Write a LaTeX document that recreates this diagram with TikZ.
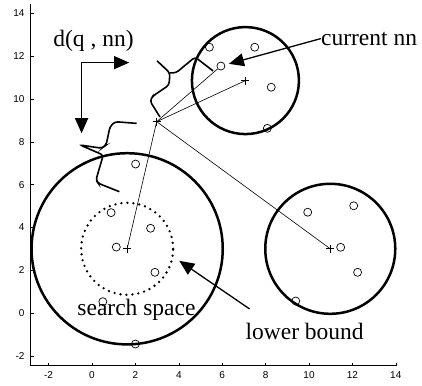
\documentclass[tikz,border=0pt]{standalone}
\usepackage{fontspec}
\setmainfont{Liberation Serif}
\setsansfont{Liberation Sans}
\usetikzlibrary{arrows.meta}

\begin{document}
\begin{tikzpicture}[x=21.7pt, y=21.4pt,
  ring/.style={line width=2.5pt},
  wave/.style={line width=1.6pt, rounded corners=3pt},
  ray/.style={line width=0.6pt},
  pt/.style={circle, draw, line width=0.7pt, minimum size=8pt, inner sep=0pt},
  lbl/.style={font=\fontsize{23.5}{26}\selectfont, inner sep=0pt},
  ticklbl/.style={font=\sffamily\fontsize{10}{12}\selectfont, inner sep=0pt},
  bigarrow/.style={line width=1.3pt, -{Triangle[length=15pt,width=13pt]}}]
  \useasboundingbox (-4.2396,-3.3645) rectangle (15.2074,14.6262);
  % Axes
  \draw[line width=0.7pt] (-2.82,14.44) -- (-2.82,-2.46) -- (14.05,-2.46);
  \foreach \x in {-2,0,...,14} {
    \draw[line width=0.5pt] (\x,-2.46) -- ++(0,0.14);
    \node[ticklbl] at (\x,-2.9) {\x};
  }
  \foreach \y in {-2,0,...,14} {
    \draw[line width=0.5pt] (-2.82,\y) -- ++(0.14,0);
    \node[ticklbl, anchor=east] at (-3.1,\y) {\y};
  }
  % Centres and query point
  \coordinate (q) at (2.98,8.94);
  \coordinate (cA) at (1.62,3);
  \coordinate (cB) at (7.07,10.86);
  \coordinate (cC) at (10.98,3);
  % Bounding circles
  \draw[ring] (cA) circle[radius=95.6pt];
  \draw[ring] (cB) circle[radius=53.5pt];
  \draw[ring] (cC) circle[radius=65pt];
  \draw[line width=2.6pt, line cap=round, dash pattern=on 0pt off 6pt] (cA) circle[radius=46pt];
  % Data points
  \foreach \p [count=\i] in {(2.01,6.96), (0.88,4.69), (2.7,3.96), (1.12,3.08),
                             (2.9,1.9), (0.5,0.53), (2.0,-1.45)}
    \node[pt] (a\i) at \p {};
  \foreach \p [count=\i] in {(5.41,12.42), (7.5,12.42), (8.26,10.55), (8.08,8.63)}
    \node[pt] (b\i) at \p {};
  \node[pt] (nn) at (5.94,11.54) {};
  \foreach \p [count=\i] in {(9.94,4.71), (12.06,5.01), (11.46,3.07),
                             (12.24,1.9), (9.39,0.56)}
    \node[pt] (c\i) at \p {};
  % Distances from q
  \draw[ray] (q) -- (cA);
  \draw[ray] (q) -- (cC);
  \draw[ray] (q) -- (cB);
  \draw[ray] (q) -- (nn);
  \foreach \c in {q, cA, cB, cC}
    \draw[ray] (\c) ++(-4pt,0) -- ++(8pt,0) (\c) ++(0,-4pt) -- ++(0,8pt);
  % Wavefronts
  \draw[wave] (3.0,11.78) -- (3.59,11.22) -- (3.55,10.65) -- (2.81,10.14)
              -- (2.67,9.91) -- (3.13,9.16);
  \draw[wave] (3.59,11.22) -- (3.87,11.22) -- (4.75,11.96) -- (5.58,11.31);
  \draw[wave] (2.06,8.86) -- (1.06,8.94) -- (0.83,8.71) -- (0.65,7.85)
              -- (0.45,7.70) -- (-0.55,7.85) -- (0.52,7.38) -- (0.18,6.21)
              -- (0.29,6.06) -- (1.26,5.67);
  % Labels
  \node[lbl, anchor=base] (dq) at (0.07,12.44) {d(q , nn)};
  \node[lbl, anchor=base west] (cnn) at (10.55,12.52) {current nn};
  \node[lbl, anchor=base] (ss) at (2.05,-0.14) {search space};
  \node[lbl, anchor=base] (lb) at (9.8,-1.23) {lower bound};
  % Arrows
  \coordinate (corner) at (-0.48,11.7);
  \coordinate (htip) at (1.71,11.7);
  \coordinate (vtip) at (-0.48,8.4);
  \draw[line width=1.3pt, {Triangle[length=15pt,width=13pt]}-{Triangle[length=15pt,width=13pt]}]
    (vtip) -- (corner) -- (htip);
  \draw[bigarrow, shorten >=4pt] (cnn.west) -- (nn);
  \coordinate (lbstart) at (7.26,0.19);
  \coordinate (lbtip) at (4.02,2.44);
  \draw[bigarrow] (lbstart) -- (lbtip);
\end{tikzpicture}
\end{document}
